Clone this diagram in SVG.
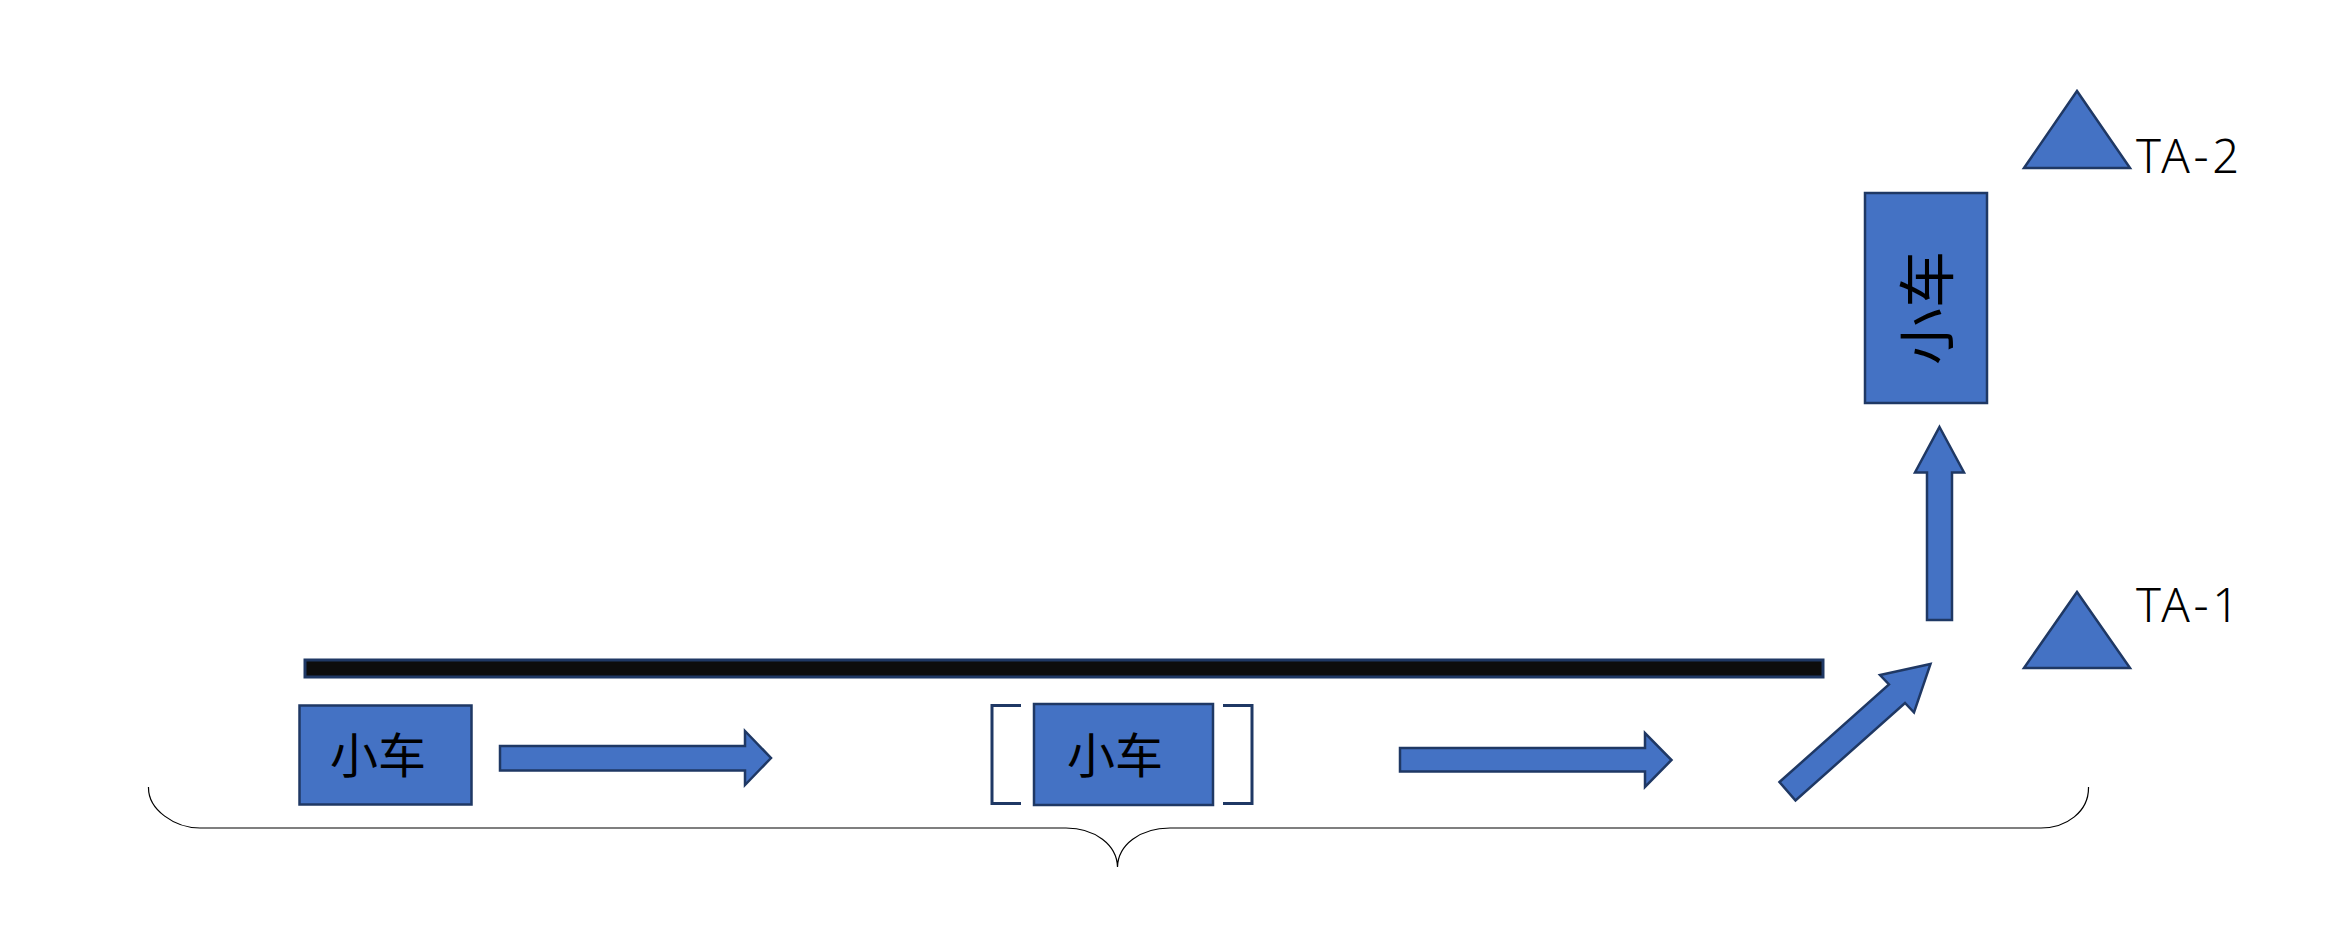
<svg xmlns="http://www.w3.org/2000/svg" width="2336" height="950" viewBox="0 0 2336 950">
<style>
.shape{fill:#4472C4;stroke:#1F3864;stroke-width:2.5;stroke-linejoin:miter}
.cn{font-family:"Noto Sans CJK SC","Noto Sans",sans-serif;fill:#000}
.lbl{font-family:"Noto Sans","Noto Sans CJK SC",sans-serif;font-weight:300;fill:#000;font-size:47px}
.brk{fill:none;stroke:#1F3864;stroke-width:3}
.brace{fill:none;stroke:#000;stroke-width:1.2}
</style>
<rect width="2336" height="950" fill="#fff"/>
<g id="bar"><rect x="305" y="660" width="1518" height="17" fill="#0d0d0d" stroke="#1F3864" stroke-width="3"/></g>
<g id="car1"><rect class="shape" x="299.5" y="705.5" width="172" height="99"/><text class="cn" x="378" y="773" font-size="48" text-anchor="middle">小车</text></g>
<g id="car2"><rect class="shape" x="1034" y="704" width="179" height="101"/><text class="cn" x="1115" y="773" font-size="48" text-anchor="middle">小车</text>
<path class="brk" d="M1021,705.5 H992 V803.5 H1021"/><path class="brk" d="M1223,705.5 H1252 V803.5 H1223"/></g>
<g id="car3"><rect class="shape" x="1865" y="193" width="122" height="210"/><text class="cn" transform="translate(1927,308) rotate(-90)" x="0" y="21" font-size="57" text-anchor="middle">小车</text></g>
<g id="ta2"><polygon class="shape" points="2077,91 2130,168 2024,168"/><text class="lbl" x="2136" y="173" textLength="103" lengthAdjust="spacing">TA-2</text></g>
<g id="ta1"><polygon class="shape" points="2077,592 2130,668 2024,668"/><text class="lbl" x="2136" y="622" textLength="103" lengthAdjust="spacing">TA-1</text></g>
<g id="connectors">
<polygon class="shape" points="500,746 745,746 745,731 771,758 745,785 745,770.5 500,770.5"/>
<polygon class="shape" points="1400,748 1645,748 1645,733 1671.5,760 1645,787 1645,771.5 1400,771.5"/>
<polygon class="shape" points="1779.5,782 1889,684.5 1880,675 1930.5,664 1914,712.5 1905,703 1795.5,800.5"/>
<polygon class="shape" points="1939.5,427 1964,472.5 1952,472.5 1952,620 1927,620 1927,472.5 1915,472.5"/>
</g>
<g id="brace"><path class="brace" d="M148.5,787 C148,810 175,828 200,828 H1066 C1095,828 1117,845 1117.5,867 C1118,845 1140,828 1170,828 H2041 C2066,828 2089,812 2088.5,787"/></g>
</svg>
